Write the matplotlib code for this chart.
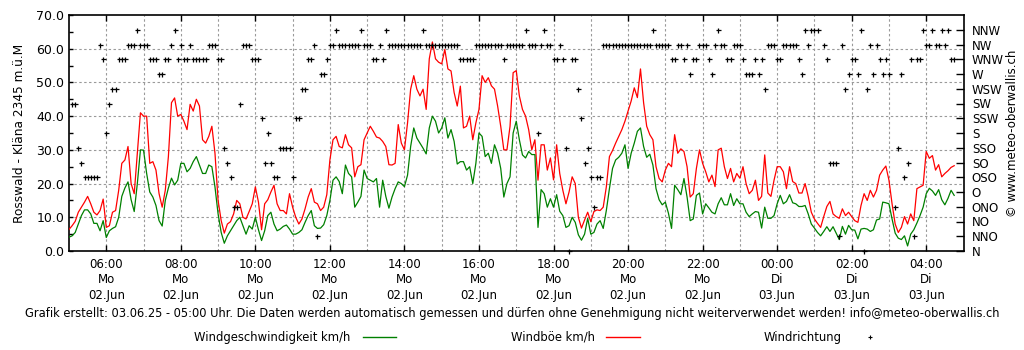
import datetime as dt
import numpy as np
import matplotlib
matplotlib.use("Agg")
import matplotlib.pyplot as plt
import matplotlib.dates as mdates
from matplotlib.ticker import FixedLocator, FuncFormatter, MultipleLocator
from matplotlib.lines import Line2D

# 5-minute samples starting Mo 02.06.2025 05:00
start = dt.datetime(2025, 6, 2, 5, 0)
step_minutes = 5

# Windböe km/h (red)
gust = [
    6.4, 7.5, 8.8, 11.5, 13, 14.5, 16.2, 14, 11.5, 10.7, 12, 15.4,
    7, 7.5, 11.5, 12, 18, 26, 27, 31, 20, 17, 29, 41,
    40, 40, 26, 26.5, 24, 17, 13, 18, 28, 44, 45.4, 40,
    40.5, 38.5, 36, 43.5, 41.5, 45, 43, 33, 32, 34, 37, 29,
    15, 9, 5.3, 8, 8.7, 11, 15, 14, 10, 9.5, 11.7, 14,
    19, 14.5, 6.3, 14, 15.2, 17.5, 19.5, 14, 12, 12, 11, 17,
    13, 10, 8, 9.5, 12.5, 16, 18.5, 14.5, 14, 12, 13, 16.7,
    27, 33, 34, 31, 30.6, 34.5, 31.5, 30.6, 22, 25, 25.6, 33,
    35, 37, 35.5, 33.8, 33.5, 32.5, 31, 25.6, 25.5, 26, 37.5, 32,
    30, 38, 48, 52, 48, 46, 48, 42, 57, 62, 57, 56,
    55.5, 59.8, 54, 53.4, 47, 43, 48.9, 36.5, 37, 40, 33, 38,
    42, 52, 50, 51.4, 49, 48, 43, 37, 30, 30, 37, 52.9,
    53.5, 46, 42, 40, 36, 30, 33, 21, 31.5, 31.5, 24, 27.6,
    21.1, 31.5, 23, 18, 14, 17.5, 22, 20, 10, 6.8, 9.2, 11.5,
    8.7, 11.7, 12.2, 12, 13, 19, 28, 29.8, 32, 34, 36, 38.5,
    41.5, 44.5, 48.4, 45.5, 54, 44, 37, 34.5, 33, 25, 21.5, 20.5,
    24, 26, 25, 34.5, 29, 30.3, 29.5, 25, 16, 17, 24.5, 30,
    26, 23.5, 20.5, 22.5, 19.1, 30, 30.5, 25, 21.5, 24.5, 20.5, 23,
    21.6, 25, 20, 17, 18, 21, 15, 16.2, 28.5, 17.2, 16.2, 21,
    25, 25, 23.5, 18.5, 25, 20.6, 20, 17.2, 17.2, 20, 16.2, 11.5,
    9.5, 8.2, 7, 10.2, 13.2, 14.7, 11, 10.2, 9.7, 12.5, 10.5, 11.5,
    10.2, 9, 8.5, 13.5, 17, 15, 18, 16, 18, 22.5, 24, 25.2,
    21, 14, 8, 5.5, 7, 10.2, 8, 11, 9, 18.5, 19, 19.5,
    29.5, 27.5, 28.3, 24, 25.6, 22, 23, 23.8, 24.8, 25.3,
]

# Windgeschwindigkeit km/h (green)
speed = [
    4.1, 4.5, 5.5, 8, 10.5, 12.2, 12.2, 11, 8.2, 8.2, 6, 9,
    4, 6, 6.7, 7.2, 10, 16.2, 18.7, 20.5, 15.2, 11.7, 20, 30,
    29.9, 23, 17.5, 16, 13.5, 9, 7.4, 15, 18.7, 21.6, 19.6, 21,
    26, 26, 23.5, 24.5, 26.5, 28, 25.5, 23, 23, 25.5, 25, 19,
    11, 5.5, 2.3, 4.5, 6, 7.5, 9, 10, 7.5, 5, 7.5, 6.5,
    10, 6.3, 3.1, 6, 10.5, 11.5, 8, 6, 6.5, 7.3, 7.7, 6.5,
    5, 5, 5.5, 6.3, 8.5, 10.5, 12, 7.5, 6.7, 6.8, 7.8, 10.5,
    15, 21, 22, 20.6, 17, 25.5, 23, 22, 13, 14.5, 16.2, 24,
    21.5, 21, 20.5, 21.5, 13, 21, 16.2, 12.7, 16, 18.5, 20.5, 20,
    19.1, 22.5, 31, 36.5, 33.5, 32, 30.5, 28.8, 36.5, 40, 38.5, 35,
    36.5, 39.5, 33.5, 36, 32.5, 25.8, 26.5, 26.5, 24, 25, 20, 26,
    35, 34, 28, 29, 26, 31.5, 29, 24.5, 16, 20, 22, 35,
    38.5, 33, 28.5, 27.6, 29.5, 28.6, 28.6, 7, 18.2, 17, 13, 15.5,
    13, 16.7, 11.8, 10.5, 7, 7.5, 10, 8.5, 4.8, 3.2, 5, 9.7,
    5, 5.5, 8, 9, 6.7, 12, 18.5, 24.5, 27, 27.8, 29, 31.5,
    24.5, 29, 32, 35.5, 36.5, 31, 27.8, 28.7, 25.5, 18.5, 15.2, 13.7,
    14.5, 11.2, 6.7, 19.5, 18.2, 16.7, 21.5, 16, 9, 9.5, 16.5, 17.2,
    11, 14, 12.8, 11.5, 11, 14, 15.8, 13.7, 13.7, 17, 13.5, 15.5,
    14, 14, 11.5, 10.2, 11, 11.7, 11.5, 6.8, 13, 9.7, 9.7, 10.5,
    14, 16.5, 14, 14.7, 16.7, 14.3, 14, 13.2, 13.2, 13.5, 11, 8,
    6.8, 5.5, 4.5, 5.8, 7.2, 5.8, 7.2, 5.3, 3.4, 7.3, 5, 7.6,
    6.3, 6.2, 3.6, 6.5, 6.7, 6.5, 5.8, 6.3, 9.2, 9.5, 14.5, 14.3,
    14, 9.5, 5.3, 3.8, 3.4, 4.5, 1.5, 5, 6.3, 8.3, 10.5, 13,
    17, 18.6, 17.8, 16.5, 18.2, 15.2, 13.7, 15.6, 18, 16.5,
]

# Windrichtung (compass point per sample, None = not recorded)
direction = [
    None, "SW", "SW", "SSO", "SO", "OSO", "OSO", "OSO", "OSO", "OSO", "NW", "WNW",
    "S", "SW", "WSW", "WSW", "WNW", "WNW", "WNW", "NW", "NW", "NW", "NNW", "NW",
    "NW", "NW", "WNW", "WNW", "WNW", "W", "W", "WNW", "WNW", "NW", "NNW", "WNW",
    "NW", "WNW", "WNW", "NW", "WNW", "WNW", "WNW", "WNW", "WNW", "NW", "NW", "NW",
    "WNW", "WNW", "SSO", "SO", "OSO", "ONO", "ONO", "SW", "NW", "NW", "NW", "WNW",
    "WNW", "WNW", "SSW", "SO", "S", "SO", "OSO", "OSO", "SSO", "SSO", "SSO", "SSO",
    "OSO", "SSW", "SSW", "WSW", "WSW", "WNW", "WNW", "NW", "NNO", "W", "W", "WNW",
    "NW", "NW", "NNW", "NW", "NW", "NW", "NW", "NW", "NW", "NW", "NNW", "NW",
    "NW", "NW", "WNW", "WNW", "NW", "WNW", "NNW", "NW", "NW", "NW", "NW", "NW",
    "NW", "NW", "NW", "NW", "NW", "NW", "NNW", "NW", "NW", "NW", "NW", "NW",
    "NW", "NW", "NW", "NW", "NW", "NW", "WNW", "WNW", "WNW", "WNW", "WNW", "NW",
    "NW", "NW", "NW", "NW", "NW", "NW", "NW", "NW", "WNW", "NW", "NW", "NW",
    "NW", "NW", "NW", "NNW", "NW", "NW", "NW", "S", "NW", "NNW", "NW", "NW",
    "WNW", "WNW", "NW", "WNW", "SSO", "N", "WNW", "WNW", "WSW", "SSW", "SO", "SSO",
    "OSO", "ONO", "OSO", "OSO", "NW", "NW", "NW", "NW", "NW", "NW", "NW", "NW",
    "NW", "NW", "NW", "NW", "NW", "NW", "NW", "NW", "NNW", "NW", "NW", "NW",
    "NW", "NW", "WNW", "WNW", "NW", "NW", "WNW", "NW", "W", "WNW", "WNW", "NW",
    "NW", "NW", "WNW", "W", "NW", "NNW", "NW", "NW", "WNW", "WNW", "NW", "NW",
    "NW", "WNW", "W", "W", "W", "WNW", "W", "WNW", "WSW", "NW", "NW", "NW",
    "WNW", "WNW", "NW", "NW", "NW", "NW", "NW", "WNW", "W", "NNW", "NW", "NNW",
    "NNW", "NNW", None, "NW", "WNW", "SO", "SO", "SO", "NNO", "NW", "WSW", "W",
    "WNW", "WNW", "W", "NNW", "N", "WSW", "NW", "W", "NW", "WNW", "W", "WNW",
    "W", None, "ONO", "SSO", "W", "OSO", "SO", "WNW", "NNO", "WNW", "WNW", "NNW",
    "NW", "NW", "NNW", "NW", "NW", "NNW", "NW", "NNW", "WNW", "WNW",
]

compass = ["N", "NNO", "NO", "ONO", "O", "OSO", "SO", "SSO",
           "S", "SSW", "SW", "WSW", "W", "WNW", "NW", "NNW"]
weekday_de = ["Mo", "Di", "Mi", "Do", "Fr", "Sa", "So"]
y_max = 70.0

times = [start + dt.timedelta(minutes=step_minutes * i) for i in range(len(gust))]
dir_step = y_max / len(compass)
dir_times = [t for t, d in zip(times, direction) if d is not None]
dir_vals = [compass.index(d) * dir_step for d in direction if d is not None]

plt.rcParams["font.family"] = ["DejaVu Sans"]
plt.rcParams["font.size"] = 8.5

W, H = 1024, 350
fig = plt.figure(figsize=(W / 100, H / 100), dpi=100)
ax = fig.add_axes([69 / W, 1 - 251 / H, (963.5 - 69) / W, (251 - 15) / H])

ax.plot(times, gust, color="#ff0000", lw=0.9, zorder=3)
ax.plot(times, speed, color="#008000", lw=0.9, zorder=3)
ax.plot(dir_times, dir_vals, linestyle="none", marker="+", color="black",
        markersize=3.6, markeredgewidth=0.9, zorder=4, clip_on=False)

x0 = start
x1 = start + dt.timedelta(hours=24)
ax.set_xlim(x0, x1)
ax.set_ylim(0, y_max)

# grid at every hour and every 10 km/h
grid_kw = dict(color="#9a9a9a", lw=0.8, linestyle=(0, (2.2, 2.2)), zorder=1)
hour = x0 + dt.timedelta(hours=1)
while hour < x1:
    ax.axvline(hour, **grid_kw)
    hour += dt.timedelta(hours=1)
for v in range(10, int(y_max), 10):
    ax.axhline(v, **grid_kw)

# time ticks every 2 hours
major = [x0 + dt.timedelta(hours=h) for h in range(1, 24, 2)]
ax.xaxis.set_major_locator(FixedLocator(mdates.date2num(major)))


def fmt_time(x, pos=None):
    d = mdates.num2date(x).replace(tzinfo=None)
    return f"{d:%H:%M}\n{weekday_de[d.weekday()]}\n{d:%d}.Jun"


ax.xaxis.set_major_formatter(FuncFormatter(fmt_time))
ax.tick_params(axis="x", which="major", direction="in", length=4.5, width=1,
               top=True, bottom=True, pad=5, labelsize=8.5)
for lab in ax.get_xticklabels():
    lab.set_linespacing(1.25)

ax.yaxis.set_major_locator(MultipleLocator(10))
ax.yaxis.set_minor_locator(MultipleLocator(5))
ax.yaxis.set_major_formatter(FuncFormatter(lambda v, p: f"{v:.1f}"))
ax.tick_params(axis="y", which="both", direction="in", length=3, width=1,
               left=True, right=False, labelsize=9)
ax.set_ylabel("Rosswald - Kläna 2345 m.ü.M", fontsize=8.7, labelpad=7)
for s in ax.spines.values():
    s.set_linewidth(1.2)

# compass scale on the right
ax2 = ax.twinx()
ax2.set_ylim(0, y_max)
ax2.set_yticks([i * dir_step for i in range(len(compass))])
ax2.set_yticklabels(compass)
ax2.tick_params(axis="y", direction="in", length=6, width=1, labelsize=8.5, pad=6)
for s in ax2.spines.values():
    s.set_visible(False)

fig.text(1013 / W, 1 - 133 / H, "© www.meteo-oberwallis.ch", rotation=90,
         ha="center", va="center", fontsize=8.5)

fig.text(512 / W, 1 - 313 / H,
         "Grafik erstellt: 03.06.25 - 05:00 Uhr. Die Daten werden automatisch gemessen "
         "und dürfen ohne Genehmigung nicht weiterverwendet werden! info@meteo-oberwallis.ch",
         ha="center", va="center", fontsize=9.2, fontstretch="condensed")

# legend row
ly = 1 - 337 / H
fig.text(350 / W, ly, "Windgeschwindigkeit km/h", ha="right", va="center",
         fontsize=9.3, fontstretch="condensed")
fig.add_artist(Line2D([363 / W, 396 / W], [ly, ly], color="#008000", lw=1,
                      transform=fig.transFigure))
fig.text(595 / W, ly, "Windböe km/h", ha="right", va="center",
         fontsize=9.3, fontstretch="condensed")
fig.add_artist(Line2D([606 / W, 640 / W], [ly, ly], color="#ff0000", lw=1,
                      transform=fig.transFigure))
fig.text(842 / W, ly, "Windrichtung", ha="right", va="center",
         fontsize=9.3, fontstretch="condensed")
fig.add_artist(Line2D([870 / W], [ly], marker="+", color="black", markersize=3,
                      markeredgewidth=0.8, linestyle="none",
                      transform=fig.transFigure))

fig.savefig("out.png", dpi=100)
